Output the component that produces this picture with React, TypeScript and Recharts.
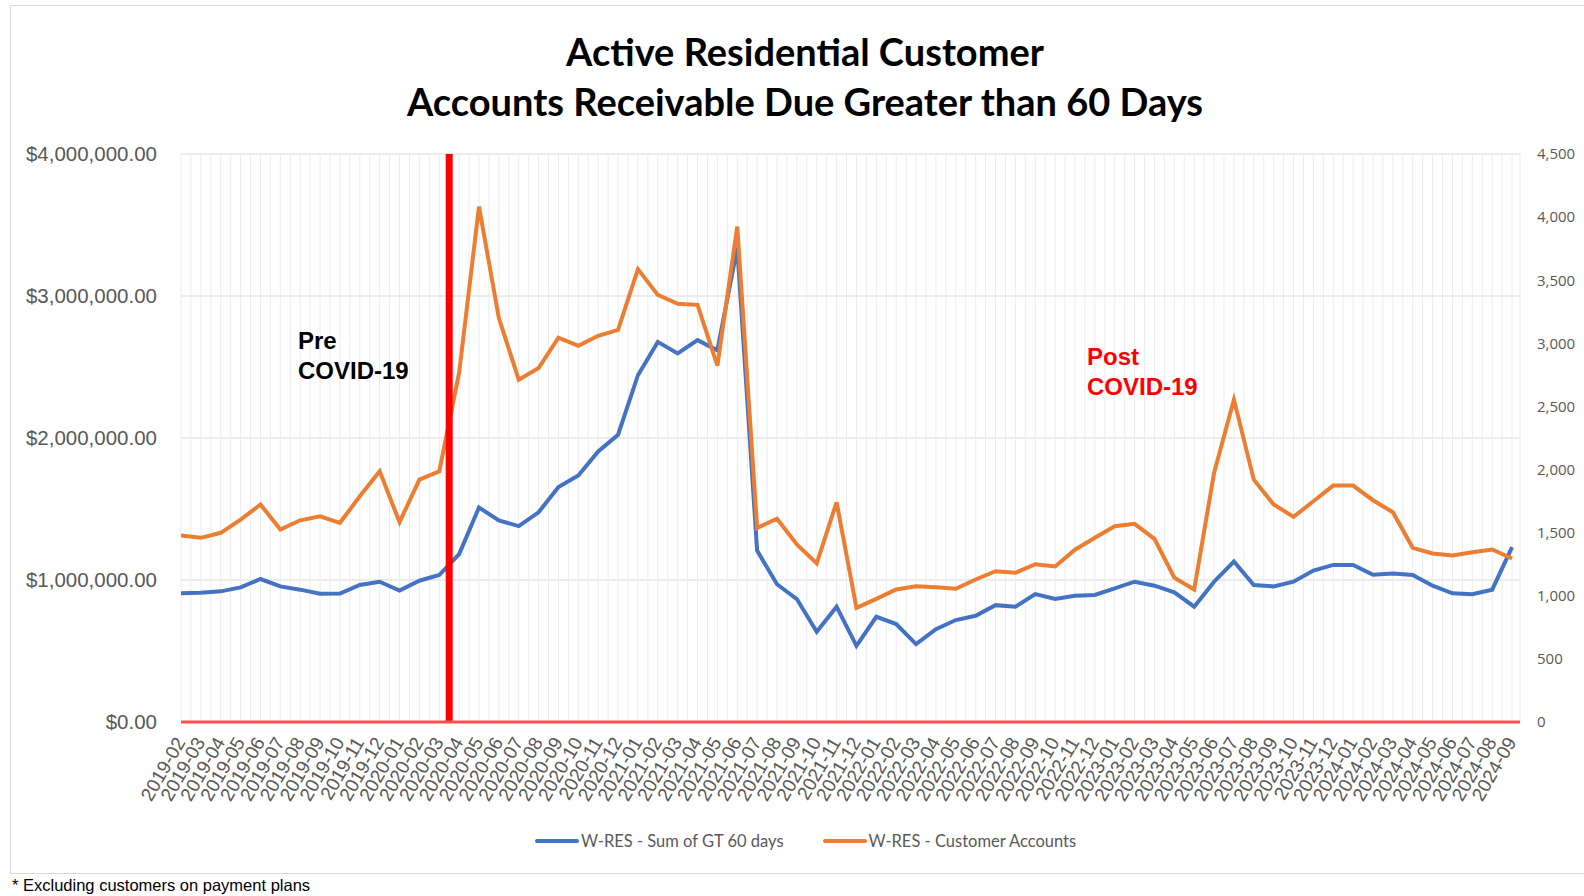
import React from "react";
import { LineChart, Line, XAxis, YAxis, CartesianGrid, ReferenceLine } from "recharts";

const months = [
  "2019-02", "2019-03", "2019-04", "2019-05", "2019-06", "2019-07", "2019-08", "2019-09", "2019-10", "2019-11", "2019-12",
  "2020-01", "2020-02", "2020-03", "2020-04", "2020-05", "2020-06", "2020-07", "2020-08", "2020-09", "2020-10", "2020-11", "2020-12",
  "2021-01", "2021-02", "2021-03", "2021-04", "2021-05", "2021-06", "2021-07", "2021-08", "2021-09", "2021-10", "2021-11", "2021-12",
  "2022-01", "2022-02", "2022-03", "2022-04", "2022-05", "2022-06", "2022-07", "2022-08", "2022-09", "2022-10", "2022-11", "2022-12",
  "2023-01", "2023-02", "2023-03", "2023-04", "2023-05", "2023-06", "2023-07", "2023-08", "2023-09", "2023-10", "2023-11", "2023-12",
  "2024-01", "2024-02", "2024-03", "2024-04", "2024-05", "2024-06", "2024-07", "2024-08", "2024-09",
];

// W-RES - Sum of GT 60 days, in $ millions
const sumGT60 = [
  0.906, 0.91, 0.92, 0.948, 1.007, 0.955, 0.932, 0.903, 0.905, 0.965, 0.988,
  0.925, 0.995, 1.035, 1.183, 1.51, 1.42, 1.379, 1.477, 1.655, 1.736, 1.905, 2.023,
  2.442, 2.677, 2.595, 2.689, 2.618, 3.34, 1.207, 0.97, 0.866, 0.635, 0.812, 0.536,
  0.741, 0.69, 0.548, 0.654, 0.718, 0.748, 0.823, 0.812, 0.901, 0.866, 0.889, 0.895,
  0.941, 0.988, 0.96, 0.913, 0.812, 0.988, 1.13, 0.965, 0.955, 0.988, 1.066, 1.106,
  1.106, 1.037, 1.045, 1.035, 0.96, 0.906, 0.9, 0.932, 1.231,
];

// W-RES - Customer Accounts
const customerAccounts = [
  1477, 1459, 1499, 1604, 1723, 1525, 1598, 1630, 1578, 1788, 1986,
  1583, 1920, 1986, 2767, 4083, 3200, 2712, 2804, 3045, 2981, 3060, 3107,
  3588, 3384, 3313, 3305, 2823, 3925, 1538, 1610, 1406, 1256, 1741, 905,
  976, 1050, 1076, 1068, 1056, 1129, 1195, 1182, 1250, 1232, 1365, 1459,
  1551, 1570, 1451, 1143, 1050, 1973, 2554, 1920, 1723, 1625, 1749, 1873,
  1873, 1757, 1662, 1380, 1335, 1319, 1345, 1367, 1295,
];

const leftTicks = [0, 1000000, 2000000, 3000000, 4000000];
const rightTicks = [0, 500, 1000, 1500, 2000, 2500, 3000, 3500, 4000, 4500];
const covidStart = 13.5; // mid March 2020

const seriesNames = ["W-RES - Sum of GT 60 days", "W-RES - Customer Accounts"];
const seriesColors = ["#4472c4", "#ed7d31"];

const data = months.map((m, i) => ({
  idx: i,
  month: m,
  gt60: sumGT60[i] * 1000000,
  accounts: customerAccounts[i],
}));

const X_MAX = months.length - 0.6;

const money = (v: number) =>
  "$" + v.toLocaleString("en-US", { minimumFractionDigits: 2, maximumFractionDigits: 2 });

const MonthTick = (props: any) => {
  const { x, y, payload } = props;
  return (
    <g transform={`translate(${x + 5},${y + 20})`}>
      <text
        x={0}
        y={0}
        textAnchor="end"
        transform="rotate(-60)"
        fill="#595959"
        fontSize={19}
        fontFamily="'Liberation Sans', Arial, sans-serif"
      >
        {months[payload.value]}
      </text>
    </g>
  );
};

const halfStepGrid = ({ offset }: any) => {
  const out: number[] = [];
  for (let k = 0; k * 0.5 <= X_MAX; k++) {
    out.push(offset.left + (offset.width * k * 0.5) / X_MAX);
  }
  out.push(offset.left + offset.width);
  return out;
};

export default function App() {
  return (
    <div style={{ position: "absolute", left: 0, top: 0, width: 1584, height: 896, overflow: "hidden", background: "#fff" }}>
      <div style={{ position: "absolute", left: 10, top: 5, width: 1620, height: 867, border: "1px solid #d9d9d9" }} />
      <div
        style={{
          position: "absolute",
          left: 10,
          width: 1590,
          top: 27,
          textAlign: "center",
          fontFamily: "Lato, sans-serif",
          fontWeight: 700,
          fontSize: 38,
          lineHeight: "49.5px",
          color: "#000",
        }}
      >
        <div>Active Residential Customer</div>
        <div>Accounts Receivable Due Greater than 60 Days</div>
      </div>

      <div style={{ position: "absolute", left: 0, top: 0 }}>
        <LineChart width={1584} height={896} data={data} margin={{ top: 154, right: 0, bottom: 64, left: 11 }}>
          <CartesianGrid
            yAxisId="left"
            stroke="#d9d9d9"
            strokeWidth={1}
            horizontal={true}
            vertical={false}
          />
          <CartesianGrid
            yAxisId="left"
            stroke="#ececec"
            strokeWidth={1}
            horizontal={false}
            verticalCoordinatesGenerator={halfStepGrid}
          />
          <XAxis
            dataKey="idx"
            type="number"
            domain={[0, X_MAX]}
            allowDataOverflow={true}
            ticks={months.map((_, i) => i)}
            interval={0}
            height={110}
            tickSize={0}
            tickMargin={0}
            tick={<MonthTick />}
            axisLine={{ stroke: "#ff5050", strokeWidth: 3 }}
          />
          <YAxis
            yAxisId="left"
            orientation="left"
            width={170}
            domain={[0, 4000000]}
            ticks={leftTicks}
            tickFormatter={money}
            axisLine={false}
            tickLine={false}
            tickSize={0}
            tickMargin={24}
            tick={{ fill: "#595959", fontSize: 20.5, fontFamily: "'Liberation Sans', Arial, sans-serif" }}
          />
          <YAxis
            yAxisId="right"
            orientation="right"
            width={64}
            domain={[0, 4500]}
            ticks={rightTicks}
            tickFormatter={(v: number) => v.toLocaleString("en-US")}
            axisLine={false}
            tickLine={false}
            tickSize={0}
            tickMargin={17}
            tick={{ fill: "#595959", fontSize: 15, fontFamily: "'Open Sans', sans-serif", textAnchor: "start" }}
          />
          <Line
            yAxisId="left"
            dataKey="gt60"
            name={seriesNames[0]}
            stroke={seriesColors[0]}
            strokeWidth={4}
            dot={false}
            type="linear"
            isAnimationActive={false}
          />
          <Line
            yAxisId="right"
            dataKey="accounts"
            name={seriesNames[1]}
            stroke={seriesColors[1]}
            strokeWidth={4}
            dot={false}
            type="linear"
            isAnimationActive={false}
          />
          <ReferenceLine yAxisId="left" x={covidStart} stroke="#ff0000" strokeWidth={7} />
        </LineChart>
      </div>

      <div
        style={{
          position: "absolute",
          left: 298,
          top: 326,
          fontFamily: "'Liberation Sans', Arial, sans-serif",
          fontWeight: 700,
          fontSize: 24,
          lineHeight: "29.5px",
          color: "#000",
        }}
      >
        <div>Pre</div>
        <div>COVID-19</div>
      </div>
      <div
        style={{
          position: "absolute",
          left: 1087,
          top: 342,
          fontFamily: "'Liberation Sans', Arial, sans-serif",
          fontWeight: 700,
          fontSize: 24,
          lineHeight: "29.5px",
          color: "#ff0000",
        }}
      >
        <div>Post</div>
        <div>COVID-19</div>
      </div>

      <div
        style={{
          position: "absolute",
          left: 535,
          top: 831,
          display: "flex",
          alignItems: "center",
          gap: 39,
          fontFamily: "Lato, sans-serif",
          fontSize: 16.5,
          color: "#595959",
        }}
      >
        {seriesNames.map((n, i) => (
          <div key={n} style={{ display: "flex", alignItems: "center" }}>
            <span style={{ display: "inline-block", width: 44, height: 4, borderRadius: 2, background: seriesColors[i], marginRight: 2 }} />
            <span>{n}</span>
          </div>
        ))}
      </div>

      <div
        style={{
          position: "absolute",
          left: 12,
          top: 876,
          fontFamily: "'Liberation Sans', Arial, sans-serif",
          fontSize: 16.5,
          color: "#000",
          whiteSpace: "nowrap",
        }}
      >
        * Excluding customers on payment plans
      </div>
    </div>
  );
}
